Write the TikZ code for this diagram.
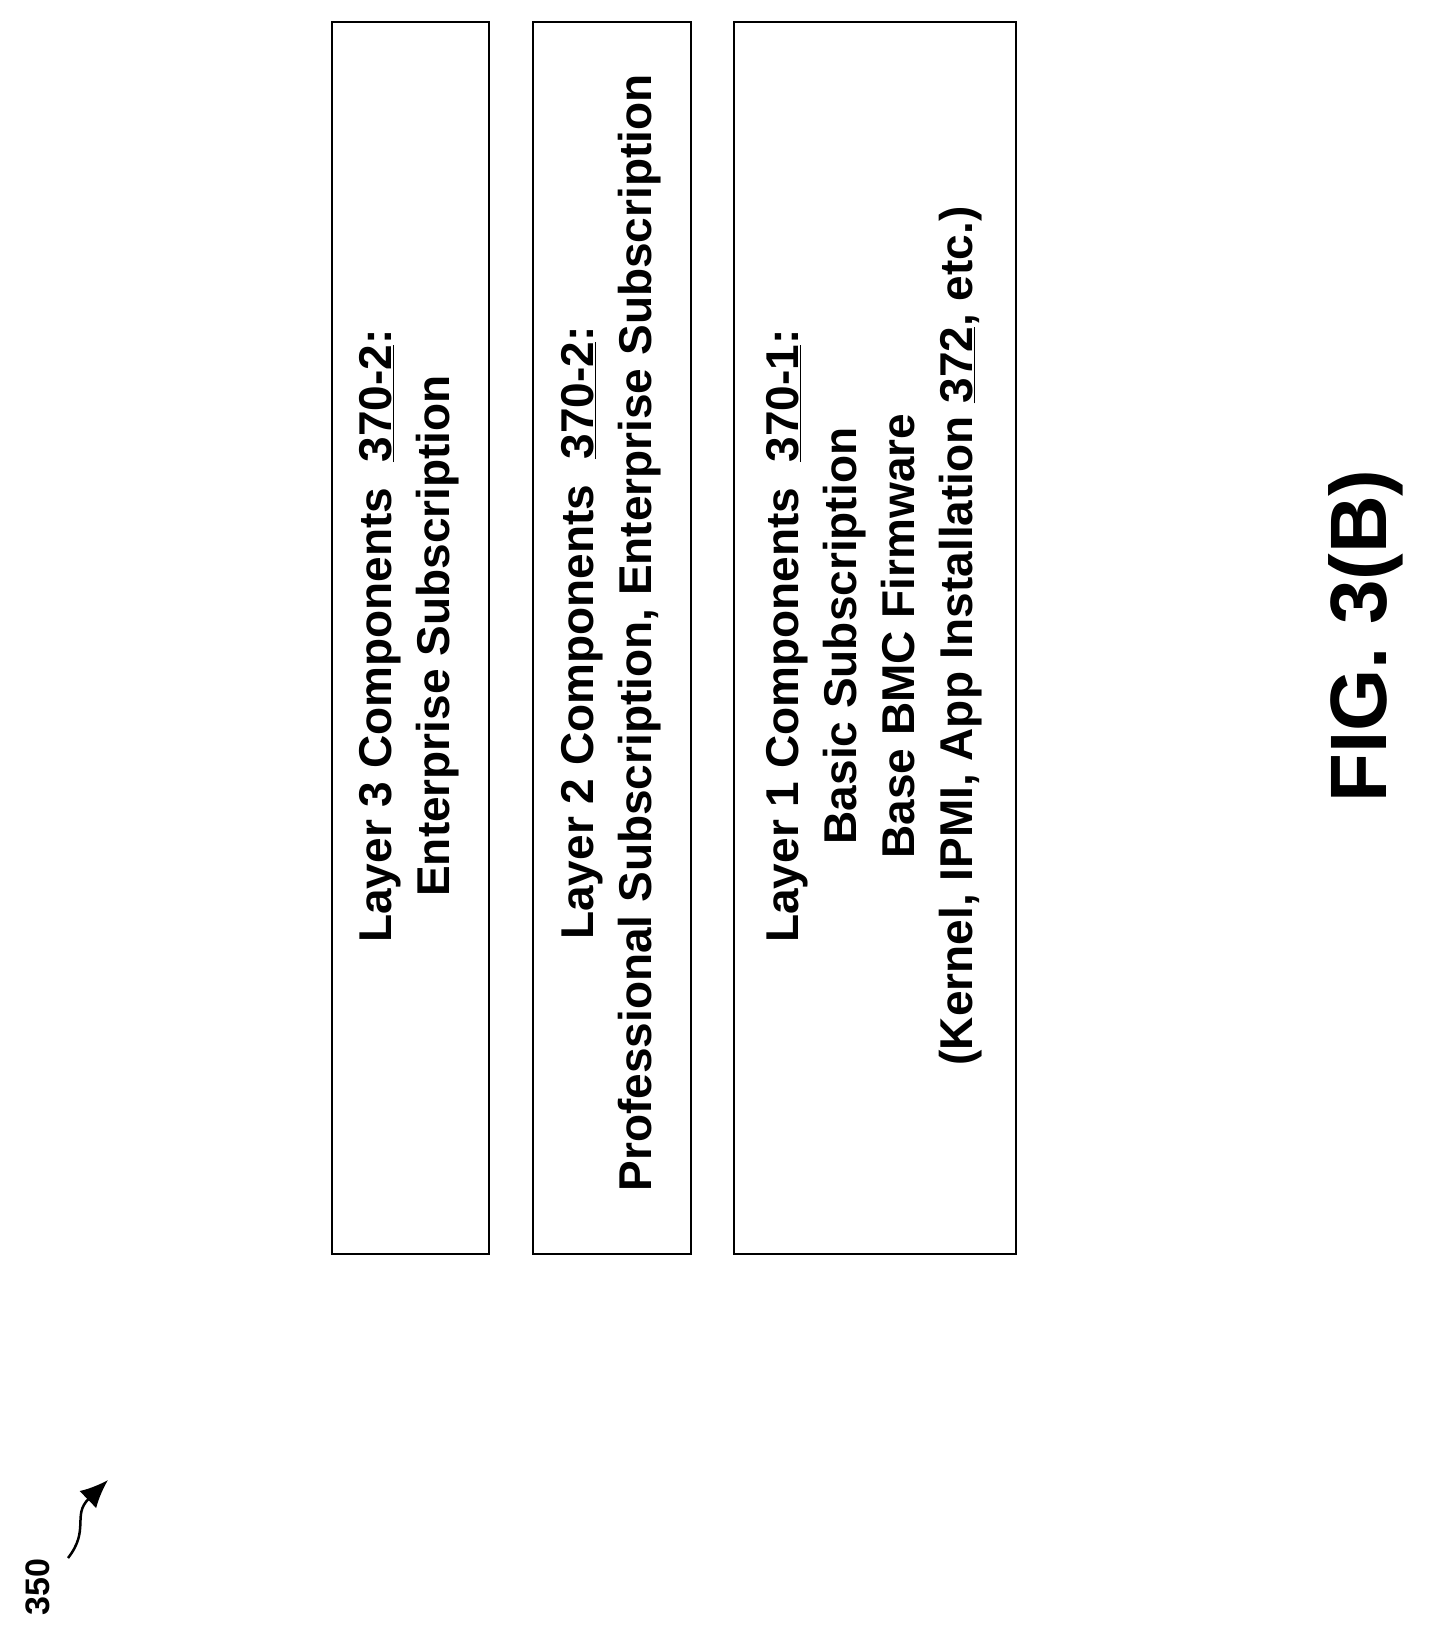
\documentclass[tikz,border=0pt]{standalone}
\usepackage{fontspec}
\setmainfont{Liberation Sans}
\usetikzlibrary{arrows.meta}
\begin{document}
\begin{tikzpicture}[x=1pt,y=-1pt,
  lay/.style={draw,line width=2pt},
  txt/.style={rotate=90,align=center,font=\fontsize{46}{58}\selectfont\bfseries}]
\useasboundingbox (0,0) rectangle (1428,1637);
\node[lay,minimum width=157,minimum height=1232,anchor=north west] (b3) at (331,21) {};
\node[lay,minimum width=158,minimum height=1232,anchor=north west] (b2) at (532,21) {};
\node[lay,minimum width=282,minimum height=1232,anchor=north west] (b1) at (733,21) {};
\node[txt] (t3) at (409,636) {Layer 3 Components\ \ \underline{370-2}:\\Enterprise Subscription};
\node[txt] (t2) at (611,633) {Layer 2 Components\ \ \underline{370-2}:\\Professional Subscription, Enterprise Subscription};
\node[txt] (t1) at (874,636) {Layer 1 Components\ \ \underline{370-1}:\\Basic Subscription\\Base BMC Firmware\\(Kernel, IPMI, App Installation \underline{372}, etc.)};
\node[rotate=90,font=\fontsize{80}{90}\selectfont\bfseries] (fig) at (1366,636) {FIG. 3(B)};
\node[rotate=90,font=\fontsize{34}{40}\selectfont\bfseries] (n350) at (38,1587) {350};
\coordinate (a0) at (68,1558);
\coordinate (a1) at (108,1480);
\draw[line width=2.5pt,-{Latex[length=28pt,width=24pt]}] (a0) .. controls (90,1530) and (72,1515) .. (a1);
\end{tikzpicture}
\end{document}
